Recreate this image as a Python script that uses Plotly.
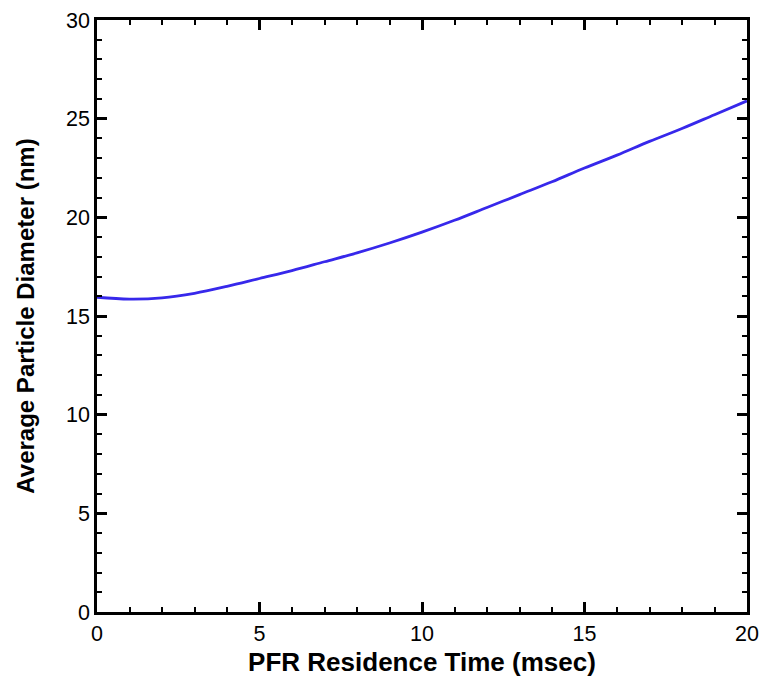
import plotly.graph_objects as go

# PFR residence time (msec) vs average particle diameter (nm)
time_ms = [0, 1, 2, 3, 4, 5, 6, 7, 8, 9, 10, 11, 12, 13, 14, 15, 16, 17, 18, 19, 20]
diameter_nm = [15.95, 15.86, 15.92, 16.15, 16.5, 16.9, 17.3, 17.75, 18.2, 18.7, 19.25,
               19.85, 20.5, 21.15, 21.8, 22.5, 23.15, 23.85, 24.5, 25.2, 25.9]

x_ticks = [0, 5, 10, 15, 20]
y_ticks = [0, 5, 10, 15, 20, 25, 30]

FONT = 'Liberation Sans, Arial, Helvetica, sans-serif'

trace = go.Scatter(x=time_ms, y=diameter_nm, mode='lines',
                   line=dict(color='rgb(55,40,235)', width=2.8, shape='spline'),
                   hoverinfo='x+y')

axis_style = dict(showgrid=False, zeroline=False, showline=True, automargin=False,
                  linecolor='black', linewidth=2.5, mirror='allticks',
                  ticks='inside', ticklen=10, tickwidth=2.5, tickcolor='black',
                  tickfont=dict(family=FONT, size=21.5, color='black'),
                  minor=dict(ticks='inside', ticklen=5, tickwidth=1.5, tickcolor='black', dtick=1))

layout = go.Layout(width=760, height=679,
                   margin=dict(l=97, r=13, t=20, b=67),
                   paper_bgcolor='white', plot_bgcolor='white',
                   showlegend=False,
                   xaxis=dict(axis_style, range=[0, 20], tickvals=x_ticks,
                              title=dict(text='<b>PFR Residence Time (msec)</b>', standoff=9,
                                         font=dict(family=FONT, size=26, color='black'))),
                   yaxis=dict(axis_style, range=[0, 30], tickvals=y_ticks,
                              title=dict(text='<b>Average Particle Diameter (nm)</b>', standoff=25,
                                         font=dict(family=FONT, size=24, color='black'))))

fig = go.Figure(data=[trace], layout=layout)
fig.write_html("out.html", config={'displayModeBar': False},
               post_script="document.body.style.margin='0px';"
                           "document.documentElement.style.overflow='hidden';")
